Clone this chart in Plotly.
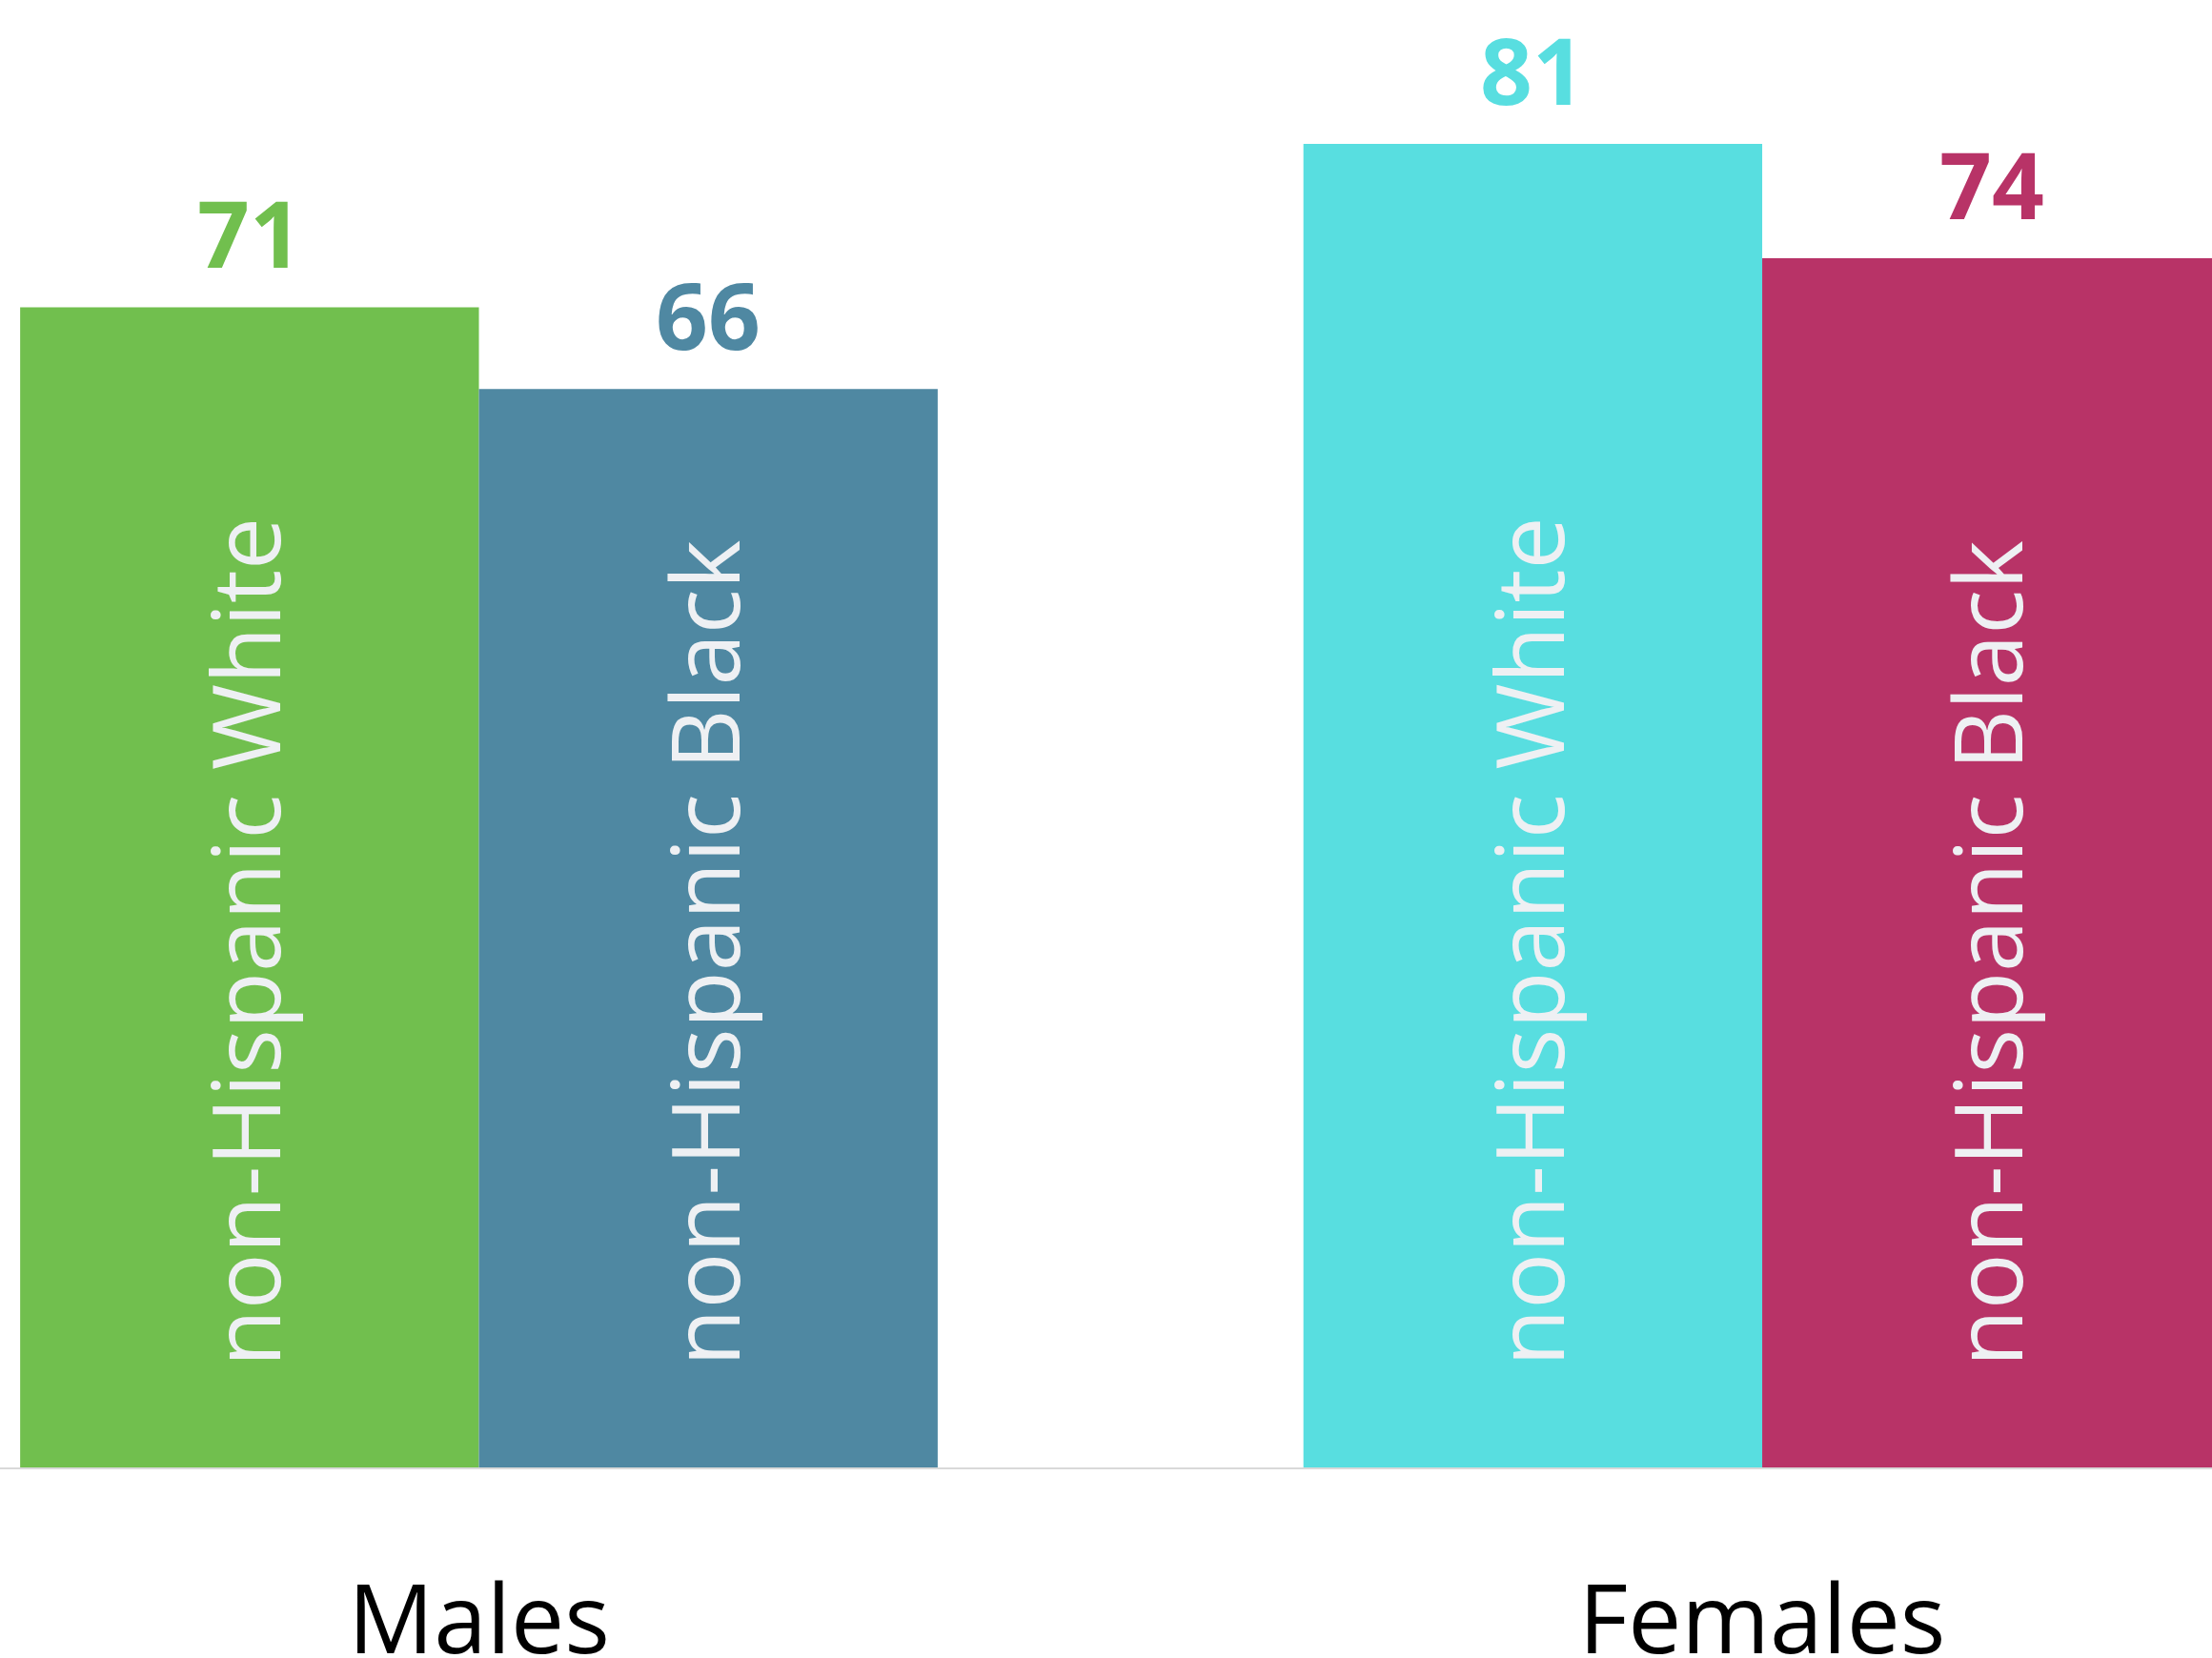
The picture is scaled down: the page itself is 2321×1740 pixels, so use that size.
import plotly.graph_objects as go

categories = ["Males", "Females"]
series_labels = ["non-Hispanic White", "non-Hispanic Black"]
white_values = [71, 81]
black_values = [66, 74]
white_colors = ["#71bf4e", "#58dee0"]
black_colors = ["#4f88a2", "#b83367"]

FONT = "Open Sans"
BARGAP = 0.285
values = [white_values, black_values]
colors = [white_colors, black_colors]

fig = go.Figure()
for j in range(2):
    fig.add_trace(go.Bar(
        x=categories, y=values[j], name=series_labels[j],
        marker=dict(color=colors[j], line=dict(width=0)),
        hoverinfo="skip",
    ))

bw = (1 - BARGAP) / 2
annotations = []
for j in range(2):
    for i, v in enumerate(values[j]):
        xc = i + (j - 0.5) * bw
        annotations.append(dict(
            x=xc, y=v, xref="x", yref="y", text=str(v), showarrow=False,
            yanchor="bottom", xanchor="center", yshift=11,
            font=dict(family=FONT, size=96, color=colors[j][i], weight="bold"),
        ))
        annotations.append(dict(
            x=xc, y=0, xref="x", yref="y", text=series_labels[j], showarrow=False,
            yanchor="bottom", xanchor="center", yshift=104, xshift=-6, textangle=-90,
            font=dict(family=FONT, size=98, color="#eef0f3"),
        ))

fig.update_layout(
    width=2321, height=1740,
    margin=dict(l=0, r=0, t=0, b=200),
    paper_bgcolor="white", plot_bgcolor="white",
    barmode="group", bargap=BARGAP, bargroupgap=0,
    showlegend=False,
    annotations=annotations,
    xaxis=dict(
        range=[-0.3732, 1.3505], showgrid=False, zeroline=False, automargin=False,
        showline=True, linecolor="#d9d9d9", linewidth=2,
        ticks="outside", ticklen=73, tickcolor="rgba(0,0,0,0)",
        tickfont=dict(family=FONT, size=100, color="#000000"),
    ),
    yaxis=dict(range=[0, 89.8], visible=False, showgrid=False, zeroline=False, automargin=False),
)

fig.write_html(
    "out.html",
    config={"displayModeBar": False},
    post_script="document.body.style.margin='0';document.body.style.overflow='hidden';",
)
